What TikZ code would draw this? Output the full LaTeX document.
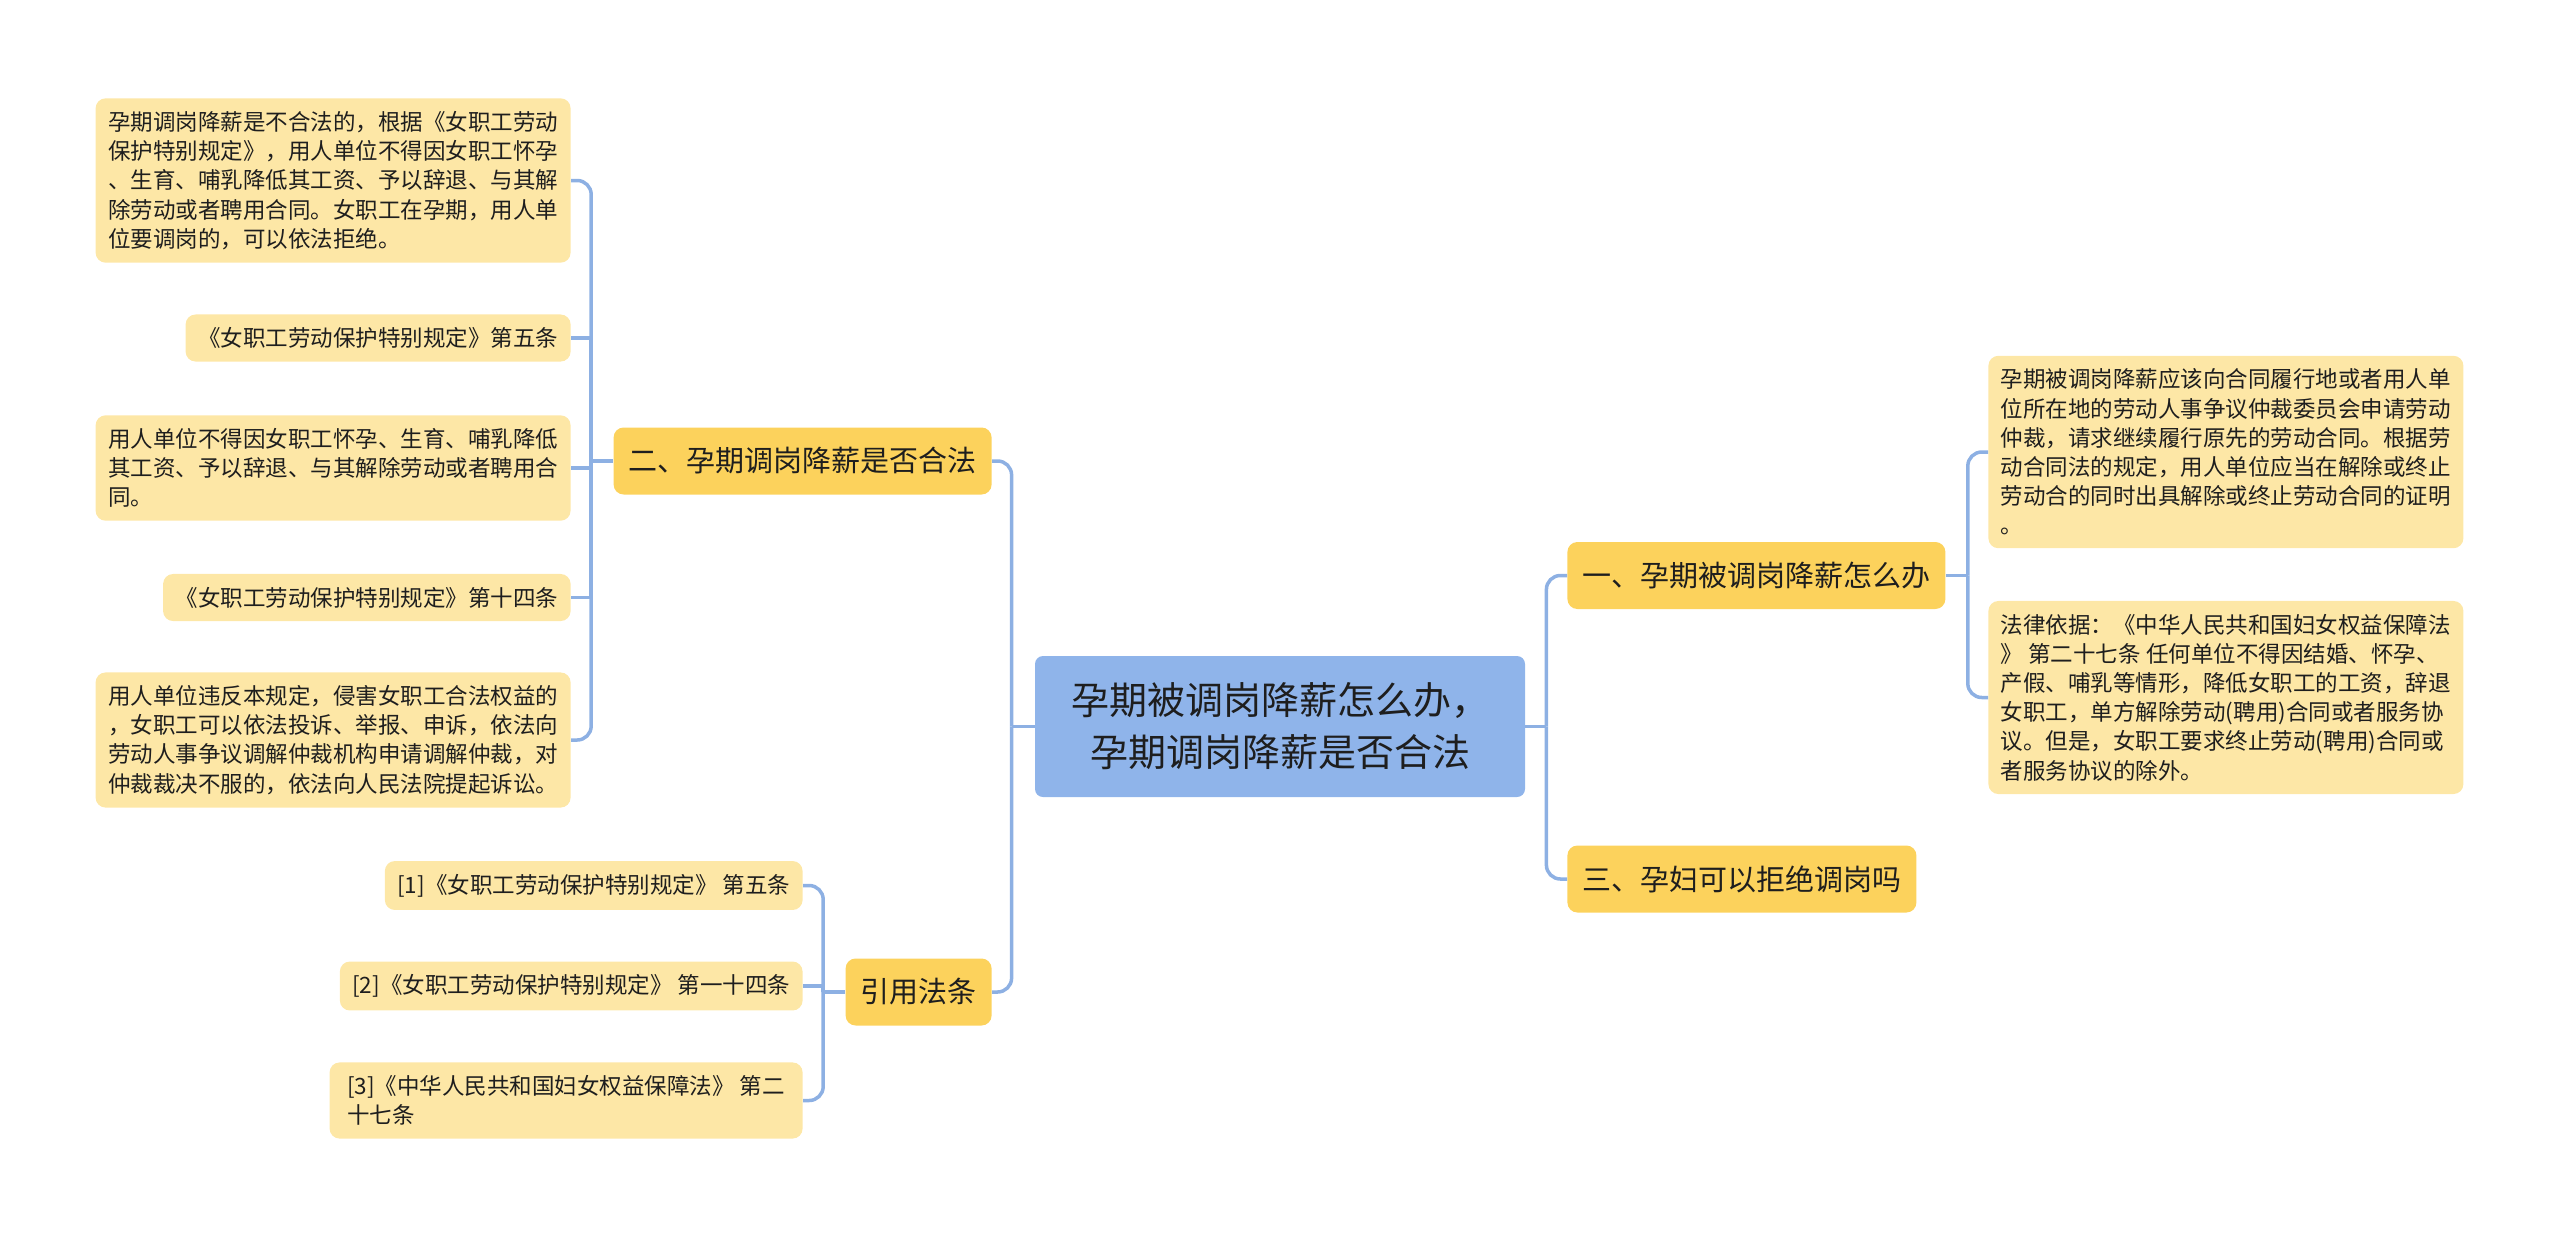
\documentclass[tikz,border=0pt]{standalone}
\usepackage{fontspec}
\setmainfont{Noto Sans CJK SC}
\definecolor{rootfill}{HTML}{8FB4EA}
\definecolor{topicfill}{HTML}{FCD25C}
\definecolor{leaffill}{HTML}{FDE7A6}
\definecolor{linkcol}{HTML}{8DB0E3}
\definecolor{inkcol}{HTML}{1E1E1E}
\begin{document}
\begin{tikzpicture}[
      x=0.5pt, y=-0.5pt,
      root/.style={fill=rootfill, rounded corners=4pt, align=center, text=inkcol,
                   minimum width=245pt, minimum height=70.5pt,
                   font=\fontsize{19}{26}\selectfont},
      topic/.style={fill=topicfill, rounded corners=5pt, text=inkcol,
                    inner xsep=7.5pt, minimum height=33.5pt,
                    font=\fontsize{14.5}{18}\selectfont},
      leaf/.style={fill=leaffill, rounded corners=5pt, text=inkcol, align=left,
                   inner xsep=6.25pt, inner ysep=6.5pt,
                   font=\fontsize{11.25}{14.6}\selectfont},
      link/.style={draw=linkcol, line width=1.75pt},
      elbow/.style={link, rounded corners=7pt}
    ]
    \useasboundingbox (0,0) rectangle (2560,1238);

    % Centre topic.
    \node[root] (root) at (1280,726.5)
      {孕期被调岗降薪怎么办，\\孕期调岗降薪是否合法};

    % Main branches.
    \node[topic, anchor=west] (sub1) at (1567,575.5) {一、孕期被调岗降薪怎么办};
    \node[topic, anchor=west] (sub3) at (1567,879) {三、孕妇可以拒绝调岗吗};
    \node[topic, anchor=east] (sub2) at (992,461) {二、孕期调岗降薪是否合法};
    \node[topic, anchor=east] (sub4) at (992,992) {引用法条};

    % Left details of branch two.
    \node[leaf, anchor=east] (l1) at (571,180.5)
      {孕期调岗降薪是不合法的，根据《女职工劳动\\保护特别规定》，用人单位不得因女职工怀孕\\、生育、哺乳降低其工资、予以辞退、与其解\\除劳动或者聘用合同。女职工在孕期，用人单\\位要调岗的，可以依法拒绝。};
    \node[leaf, anchor=east] (l2) at (571,338) {《女职工劳动保护特别规定》第五条};
    \node[leaf, anchor=east] (l3) at (571,468)
      {用人单位不得因女职工怀孕、生育、哺乳降低\\其工资、予以辞退、与其解除劳动或者聘用合\\同。};
    \node[leaf, anchor=east] (l4) at (571,597.5) {《女职工劳动保护特别规定》第十四条};
    \node[leaf, anchor=east] (l5) at (571,740)
      {用人单位违反本规定，侵害女职工合法权益的\\，女职工可以依法投诉、举报、申诉，依法向\\劳动人事争议调解仲裁机构申请调解仲裁，对\\仲裁裁决不服的，依法向人民法院提起诉讼。};

    % Cited articles.
    \node[leaf, anchor=east] (c1) at (803,885.5) {[1]《女职工劳动保护特别规定》 第五条};
    \node[leaf, anchor=east] (c2) at (803,986) {[2]《女职工劳动保护特别规定》 第一十四条};
    \node[leaf, anchor=east, minimum width=236.5pt] (c3) at (803,1100.5)
      {[3]《中华人民共和国妇女权益保障法》 第二\\十七条};

    % Right details of branch one.
    \node[leaf, anchor=west] (r1) at (1988,452)
      {孕期被调岗降薪应该向合同履行地或者用人单\\位所在地的劳动人事争议仲裁委员会申请劳动\\仲裁，请求继续履行原先的劳动合同。根据劳\\动合同法的规定，用人单位应当在解除或终止\\劳动合的同时出具解除或终止劳动合同的证明\\。};
    \node[leaf, anchor=west] (r2) at (1988,697.5)
      {法律依据：《中华人民共和国妇女权益保障法\\》 第二十七条 任何单位不得因结婚、怀孕、\\产假、哺乳等情形，降低女职工的工资，辞退\\女职工，单方解除劳动(聘用)合同或者服务协\\议。但是，女职工要求终止劳动(聘用)合同或\\者服务协议的除外。};

    % Connectors.
    \draw[link] (root.west) -- ++(-23,0) coordinate (rl);
    \draw[elbow] (rl) |- (sub2.east);
    \draw[elbow] (rl) |- (sub4.east);
    \draw[link] (root.east) -- ++(21,0) coordinate (rr);
    \draw[elbow] (rr) |- (sub1.west);
    \draw[elbow] (rr) |- (sub3.west);

    \draw[link] (sub2.west) -- ++(-22,0) coordinate (s2);
    \draw[elbow] (s2) |- (l1.east);
    \draw[link] (s2) |- (l2.east);
    \draw[link] (s2) |- (l3.east);
    \draw[link] (s2) |- (l4.east);
    \draw[elbow] (s2) |- (l5.east);

    \draw[link] (sub4.west) -- ++(-22,0) coordinate (s4);
    \draw[elbow] (s4) |- (c1.east);
    \draw[link] (s4) |- (c2.east);
    \draw[elbow] (s4) |- (c3.east);

    \draw[link] (sub1.east) -- ++(22,0) coordinate (s1);
    \draw[elbow] (s1) |- (r1.west);
    \draw[elbow] (s1) |- (r2.west);
  \end{tikzpicture}
\end{document}
